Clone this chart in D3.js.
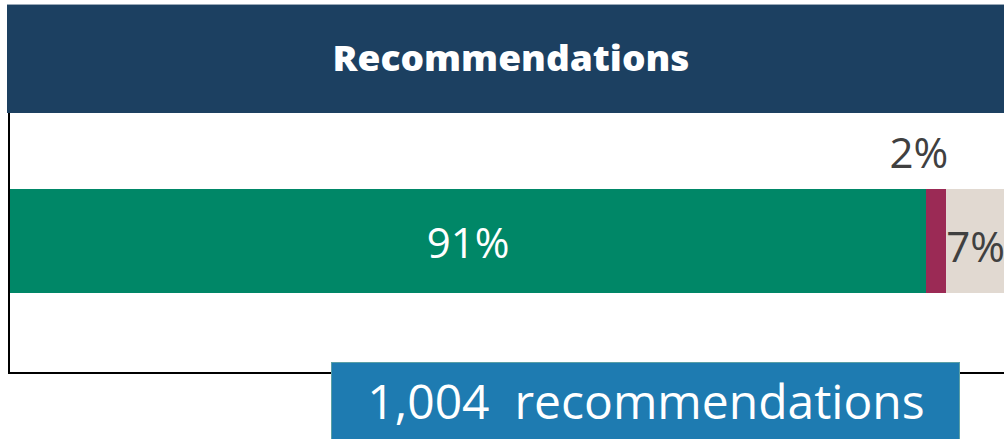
<!DOCTYPE html>
<html><head><meta charset="utf-8">
<script src="https://cdn.jsdelivr.net/npm/d3@7"></script>
<style>html,body{margin:0;padding:0;background:#fff;overflow:hidden}</style>
</head><body>
<svg id="c" width="1004" height="439"></svg>
<script>
const title = "Recommendations";
const categories = ["Implemented", "Not implemented", "Other"];
const values = [91, 2, 7];
const colors = ["#008767", "#9b2a55", "#e1d9d1"];
const totalLabel = "1,004  recommendations";

const svg = d3.select("#c");
const W = 1004, H = 439;
const x = d3.scaleLinear().domain([0, 100]).range([10, 1016.6]);

// header
svg.append("rect").attr("x", 7).attr("y", 4).attr("width", W - 7).attr("height", 109).attr("fill", "#1c4061");
svg.append("line").attr("x1", 7).attr("x2", W).attr("y1", 4.5).attr("y2", 4.5).attr("stroke", "#9aa9b8").attr("stroke-width", 1);
svg.append("text").attr("x", 511).attr("y", 71).attr("text-anchor", "middle")
  .attr("font-family", "Open Sans").attr("font-weight", 800).attr("font-size", 35)
  .attr("textLength", 357).attr("lengthAdjust", "spacingAndGlyphs")
  .attr("fill", "#fff").text(title);

// stacked bar
let cum = 0;
const segs = values.map((v, i) => { const s = {cat: categories[i], v, x0: cum, x1: cum + v, c: colors[i]}; cum += v; return s; });
const by = 189, bandH = 104;
svg.append("g").selectAll("rect").data(segs).join("rect")
  .attr("x", d => x(d.x0)).attr("width", d => x(d.x1) - x(d.x0))
  .attr("y", by).attr("height", bandH).attr("fill", d => d.c);

// labels
const lab = svg.append("g").attr("font-family", "Open Sans").attr("font-size", 42);
lab.append("text").attr("x", (x(segs[0].x0) + x(segs[0].x1)) / 2).attr("y", 258).attr("text-anchor", "middle").attr("fill", "#fff").text(values[0] + "%");
lab.append("text").attr("x", x(segs[1].x1) + 2).attr("y", 168).attr("text-anchor", "end").attr("fill", "#404040").text(values[1] + "%");
lab.append("text").attr("x", x(segs[2].x0) + 0).attr("y", 262).attr("text-anchor", "start").attr("fill", "#404040").text(values[2] + "%");

// axes frame
svg.append("line").attr("x1", 9).attr("x2", 9).attr("y1", 113).attr("y2", 374).attr("stroke", "#000").attr("stroke-width", 2);
svg.append("line").attr("x1", 8).attr("x2", W).attr("y1", 373).attr("y2", 373).attr("stroke", "#000").attr("stroke-width", 2);

// total box
svg.append("rect").attr("x", 331.5).attr("y", 362.5).attr("width", 628).attr("height", 80).attr("fill", "#1e7bb1").attr("stroke", "#5a9fa6").attr("stroke-width", 1);
svg.append("text").attr("x", 646).attr("y", 419).attr("text-anchor", "middle")
  .attr("font-family", "Open Sans").attr("font-size", 48).attr("fill", "#fff").style("white-space", "pre").text(totalLabel);
</script>
</body></html>
